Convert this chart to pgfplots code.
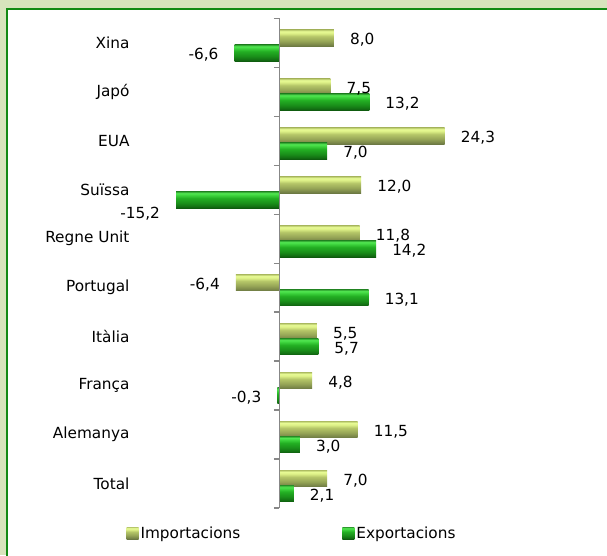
\documentclass[border=0pt]{standalone}
\usepackage{pgfplots}
\pgfplotsset{compat=1.18}
\usepackage{fontspec}
\setmainfont{DejaVu Sans}
\definecolor{bgc}{HTML}{D8E4BC}
\definecolor{frc}{HTML}{138A13}
\definecolor{axc}{HTML}{878787}
\definecolor{ia}{HTML}{6B7842}
\definecolor{ib}{HTML}{7A8749}
\definecolor{ic}{HTML}{95A456}
\definecolor{id}{HTML}{B5C668}
\definecolor{ie}{HTML}{DCEF86}
\definecolor{if}{HTML}{E8FB95}
\definecolor{ig}{HTML}{B6C66A}
\definecolor{ea}{HTML}{0E5A0E}
\definecolor{eb}{HTML}{137013}
\definecolor{ec}{HTML}{1A8E1A}
\definecolor{ed}{HTML}{23AF23}
\definecolor{ee}{HTML}{3CD23C}
\definecolor{ef}{HTML}{52E852}
\definecolor{eg}{HTML}{2C9A2C}
\pgfdeclareverticalshading{impshade}{100bp}{color(0bp)=(ia); color(25bp)=(ia); color(30bp)=(ib); color(40bp)=(ic); color(55bp)=(id); color(64bp)=(ie); color(70bp)=(if); color(75bp)=(ig); color(100bp)=(ig)}
\pgfdeclareverticalshading{expshade}{100bp}{color(0bp)=(ea); color(25bp)=(ea); color(30bp)=(eb); color(40bp)=(ec); color(55bp)=(ed); color(64bp)=(ee); color(70bp)=(ef); color(75bp)=(eg); color(100bp)=(eg)}
\newcommand{\fs}{\fontsize{15.3}{18}\selectfont}
\begin{document}
\begin{tikzpicture}
\begin{scope}
\clip (-143.5pt,-47pt) rectangle (463.5pt,508pt);
\fill[bgc] (-143.5pt,-47pt) rectangle (463.5pt,508pt);
\draw[frc, line width=2.5pt, fill=white] (-136.5pt,-80pt) rectangle (500pt,499pt);
\end{scope}
\useasboundingbox (-143.5pt,-47pt) rectangle (463.5pt,508pt);
\begin{axis}[
  scale only axis,
  width=340pt, height=489.5pt,
  xmin=-20, xmax=30,
  ymin=0.5, ymax=10.5,
  axis x line=none,
  axis y line=center,
  axis on top,
  axis line style={-, axc, line width=1.5pt},
  ytick={1,...,10},
  yticklabels={Total,Alemanya,França,Itàlia,Portugal,Regne Unit,Suïssa,EUA,Japó,Xina},
  major tick length=0pt,
  minor ytick={0.5,1.5,...,10.5},
  minor tick length=5.5pt,
  tick align=outside,
  minor tick style={axc, line width=1.5pt},
  yticklabel style={font=\fs, anchor=east, xshift=-146.5pt},
  xbar, bar width=16.5pt,
  point meta=x,
  nodes near coords={\pgfmathprintnumber[fixed,fixed zerofill,precision=1,use comma,assume math mode=true]{\pgfplotspointmeta}},
  every node near coord/.append style={font=\fs, inner xsep=16pt, yshift=-2pt, text=black},
  legend columns=2,
  legend style={at={(0.4368,0)}, anchor=center, yshift=-25pt, draw=none, fill=none, font=\fs,
    /tikz/every even column/.append style={column sep=100pt}},
  clip=false,
  imp/.style={draw=none, shade, shading=impshade, bar shift=5pt,
    legend image code/.code={\path[shade, shading=impshade] (0pt,-6pt) rectangle (12pt,6pt);}},
  exp/.style={draw=none, shade, shading=expshade, bar shift=-10pt,
    legend image code/.code={\path[shade, shading=expshade] (0pt,-6pt) rectangle (12pt,6pt);}},
]
% Total first, carries the legend entries
\addplot[imp] coordinates {(7.0,1)};
\addlegendentry{Importacions}
\addplot[exp] coordinates {(2.1,1)};
\addlegendentry{Exportacions}
% Importacions
\addplot[imp, forget plot] coordinates {(11.5,2)};
\addplot[imp, forget plot] coordinates {(4.8,3)};
\addplot[imp, forget plot] coordinates {(5.5,4)};
\addplot[imp, forget plot] coordinates {(-6.4,5)};
\addplot[imp, forget plot] coordinates {(11.8,6)};
\addplot[imp, forget plot] coordinates {(12.0,7)};
\addplot[imp, forget plot] coordinates {(24.3,8)};
\addplot[imp, forget plot] coordinates {(7.5,9)};
\addplot[imp, forget plot] coordinates {(8.0,10)};
% Exportacions
\addplot[exp, forget plot] coordinates {(3.0,2)};
\addplot[exp, forget plot] coordinates {(-0.3,3)};
\addplot[exp, forget plot] coordinates {(5.7,4)};
\addplot[exp, forget plot] coordinates {(13.1,5)};
\addplot[exp, forget plot] coordinates {(14.2,6)};
\addplot[exp, forget plot, every node near coord/.append style={yshift=-12pt}] coordinates {(-15.2,7)};
\addplot[exp, forget plot] coordinates {(7.0,8)};
\addplot[exp, forget plot] coordinates {(13.2,9)};
\addplot[exp, forget plot] coordinates {(-6.6,10)};
\end{axis}
\end{tikzpicture}
\end{document}
